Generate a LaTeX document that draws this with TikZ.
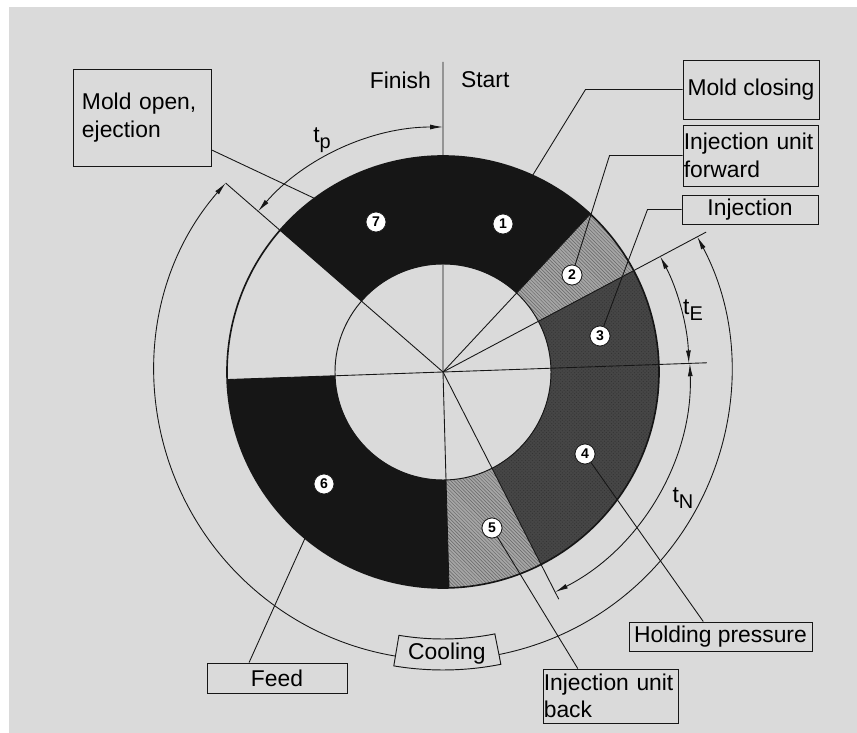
\documentclass[tikz,border=0pt]{standalone}
\usepackage{fontspec}
\setmainfont{Liberation Sans}
\usepackage{tikz}
\usetikzlibrary{arrows.meta,patterns}
\definecolor{paper}{RGB}{218,218,218}
\definecolor{ink}{RGB}{22,22,22}
\definecolor{hatchgray}{RGB}{165,165,165}
\definecolor{stipple}{RGB}{70,70,70}
\newcommand{\tlabel}[1]{t\raisebox{-0.45ex}{\fontsize{17}{17}\selectfont #1}}
\newcommand{\ringpart}[3]{\fill[#3] (#1:108) arc[start angle=#1, end angle=#2, radius=108]
  -- (#2:216) arc[start angle=#2, end angle=#1, radius=216] -- cycle;}

\begin{document}
\begin{tikzpicture}[x=0.03cm, y=0.03cm, >={Latex[length=11pt,width=4.2pt]},
    lbl/.style={draw=ink, line width=0.8pt, font=\fontsize{19.5}{23.5}\selectfont, inner sep=2pt},
    num/.style={circle, draw=ink, fill=white, line width=0.6pt, minimum size=0.6cm, inner sep=0pt,
      font=\fontsize{12}{12}\selectfont\bfseries},
    radial/.style={ink, line width=0.75pt},
    timearc/.style={ink, line width=0.75pt, <->},
    hatched/.style={fill=hatchgray, postaction={pattern=north west lines, pattern color=black!60}},
    dotted gray/.style={fill=stipple, postaction={pattern=crosshatch dots, pattern color=black!80}}]
    \useasboundingbox (-443,-361) rectangle (414,372);
    \fill[white] (-443,-361) rectangle (414,372);
    \fill[paper] (-434,-361) rectangle (414,365);
    \coordinate (c) at (0,0);

    % ring
    \ringpart{47}{90}{ink}
    \ringpart{90}{139}{ink}
    \ringpart{28}{47}{hatched}
    \ringpart{2}{28}{dotted gray}
    \ringpart{-63}{2}{dotted gray}
    \ringpart{-88.4}{-63}{hatched}
    \ringpart{182}{271.6}{ink}
    \draw[ink, line width=1.4pt] (c) circle[radius=216];
    \draw[ink, line width=0.8pt] (c) circle[radius=108];

    % phase borders
    \draw[radial] (90:310) -- (c) -- (-88.4:216);
    \draw[radial] (c) -- (47:216);
    \draw[radial] (c) -- (28:298);
    \draw[radial] (182:216) -- (2:264);
    \draw[radial] (c) -- (-63:255);
    \draw[radial] (c) -- (139:288);

    % times
    \draw[timearc] (139:288) arc[start angle=139, end angle=388, radius=288];
    \draw[timearc] (139:245) arc[start angle=139, end angle=90, radius=245];
    \draw[timearc] (2:246) arc[start angle=2, end angle=28, radius=246];
    \draw[timearc] (-63:247) arc[start angle=-63, end angle=2, radius=247];
    \node[font=\fontsize{19.5}{23.5}\selectfont] (tp) at (-121,232) {\tlabel{p}};
    \node[font=\fontsize{19.5}{23.5}\selectfont] (te) at (250,62) {\tlabel{E}};
    \node[font=\fontsize{19.5}{23.5}\selectfont] (tn) at (240,-126) {\tlabel{N}};

    \draw[ink, line width=0.8pt, fill=paper] (260.5:267) arc[start angle=260.5, end angle=281.2, radius=267]
      -- (281.2:298) arc[start angle=281.2, end angle=260.5, radius=298] -- cycle;
    \node[font=\fontsize{19.5}{23.5}\selectfont] (cool) at (270.8:282) {Cooling};

    \node[anchor=east, font=\fontsize{19.5}{23.5}\selectfont] (finish) at (-8,292) {Finish};
    \node[anchor=west, font=\fontsize{19.5}{23.5}\selectfont] (start) at (14,292) {Start};

    % boxes
    \node[lbl, align=left, text width=3.6cm, inner xsep=0.27cm, minimum height=2.91cm] (mopen) at (-301,254.5)
      {Mold open,\\ejection};
    \node[lbl, minimum width=4.08cm, minimum height=1.77cm] (mclose) at (308,282.5) {Mold closing};
    \node[lbl, align=left, text width=4.0cm, inner xsep=0.025cm, minimum height=1.83cm] (iuf) at (307.5,216.5)
      {Injection unit\\forward};
    \node[lbl, minimum width=4.08cm, minimum height=0.87cm] (inj) at (307,162.5) {Injection};
    \node[lbl, minimum width=5.49cm, minimum height=0.87cm] (hold) at (277.5,-264.5) {Holding pressure};
    \node[lbl, align=left, text width=4.0cm, inner xsep=0.025cm, minimum height=1.62cm] (iub) at (167.5,-324)
      {Injection unit\\back};
    \node[lbl, minimum width=4.2cm, minimum height=0.9cm] (feed) at (-166,-306) {Feed};

    % leaders
    \coordinate (mclosept) at (65.5:216);
    \coordinate (mopenpt) at (126.5:216);
    \coordinate (feedpt) at (-129.7:216);
    \node[num] (n1) at (60,148) {1};
    \node[num] (n2) at (129,97) {2};
    \node[num] (n3) at (157,36) {3};
    \node[num] (n4) at (142,-82) {4};
    \node[num] (n5) at (49,-156) {5};
    \node[num] (n6) at (-119,-112) {6};
    \node[num] (n7) at (-67,150) {7};
    \draw[radial] (mclose.west) -- ++(-97,0) -- (mclosept);
    \draw[radial] (iuf.west) -- ++(-73,0) -- (n2);
    \draw[radial] (inj.west) -- ++(-34,0) -- (n3);
    \draw[radial] (mopen.-25) -- (mopenpt);
    \draw[radial] (feed.151) -- (feedpt);
    \draw[radial] (hold.139) -- (n4);
    \draw[radial] (iub.140) -- (n5);
    \foreach \k in {1,...,7} {\node[num] at (n\k) {\k};}
  \end{tikzpicture}
\end{document}
